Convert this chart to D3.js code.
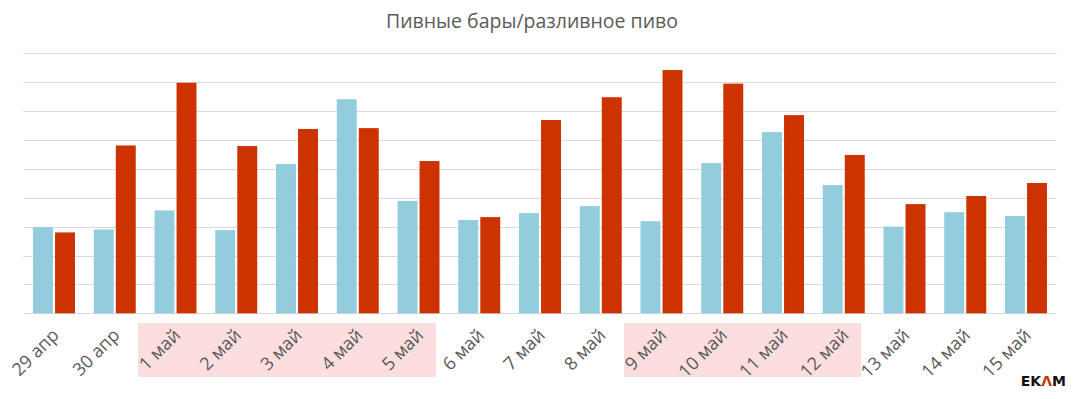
<!DOCTYPE html>
<html>
<head>
<meta charset="utf-8">
<script src="https://cdn.jsdelivr.net/npm/d3@7"></script>
<style>
  body { margin: 0; background: #fff; }
  svg { display: block; font-family: "Open Sans", sans-serif; }
</style>
</head>
<body>
<svg id="chart"></svg>
<script>
const width = 1077;
const height = 399;

const categories = ["29 апр", "30 апр", "1 май", "2 май", "3 май", "4 май", "5 май", "6 май",
  "7 май", "8 май", "9 май", "10 май", "11 май", "12 май", "13 май", "14 май", "15 май"];
const seriesNames = ["prev", "cur"];
const prevValues = [2.98, 2.9, 3.56, 2.88, 5.17, 7.41, 3.89, 3.23, 3.47, 3.71, 3.19, 5.2, 6.27, 4.44, 3.0, 3.5, 3.37];
const curValues = [2.8, 5.81, 7.98, 5.79, 6.38, 6.41, 5.27, 3.33, 6.69, 7.48, 8.42, 7.95, 6.86, 5.48, 3.78, 4.06, 4.51];
const gridTicks = [0, 1, 2, 3, 4, 5, 6, 7, 8, 9];
const holidays = [["1 май", "5 май"], ["9 май", "12 май"]];

const colors = { prev: "#93cddd", cur: "#cc3300" };

const plotLeft = 23.3, plotRight = 1056.7, plotTop = 53.3, plotBottom = 313.3;

const svg = d3.select("#chart").attr("width", width).attr("height", height);

let xScale = d3.scaleBand()
  .domain(categories)
  .range([plotLeft, plotRight])
  .paddingInner(0.309)
  .paddingOuter(0.16);

let xInner = d3.scaleBand()
  .domain(seriesNames)
  .range([0, xScale.bandwidth()])
  .paddingInner(0.095);

let yScale = d3.scaleLinear()
  .domain([0, 9])
  .range([plotBottom, plotTop]);

// title
svg.append("text")
  .attr("x", 532)
  .attr("y", 28)
  .attr("text-anchor", "middle")
  .style("font-size", "19.5px")
  .style("fill", "#5a5a5a")
  .text("Пивные бары/разливное пиво");

// holiday highlight under labels (shifted left like the rotated labels)
holidays.forEach(([a, b]) => {
  let x0 = xScale(a) - 16.5;
  let x1 = xScale(b) + xScale.bandwidth() - 3.5;
  svg.append("rect")
    .attr("x", x0)
    .attr("y", 323)
    .attr("width", x1 - x0)
    .attr("height", 54)
    .style("fill", "#fddede");
});

// gridlines
svg.append("g")
  .selectAll("line")
  .data(gridTicks)
  .enter()
  .append("line")
  .attr("x1", plotLeft)
  .attr("x2", plotRight)
  .attr("y1", (d) => Math.round(yScale(d)) + 0.5)
  .attr("y2", (d) => Math.round(yScale(d)) + 0.5)
  .style("stroke", "#dadada")
  .style("stroke-width", 1.2);

// bars
let rows = categories.map((c, i) => ({ cat: c, prev: prevValues[i], cur: curValues[i] }));

let groups = svg.append("g")
  .selectAll("g")
  .data(rows)
  .enter()
  .append("g")
  .attr("transform", (d) => "translate(" + xScale(d.cat) + ",0)");

groups.selectAll("rect")
  .data((d) => seriesNames.map((s) => ({ key: s, value: d[s] })))
  .enter()
  .append("rect")
  .attr("x", (d) => xInner(d.key))
  .attr("width", xInner.bandwidth())
  .attr("y", (d) => yScale(d.value))
  .attr("height", (d) => yScale(0) - yScale(d.value))
  .style("fill", (d) => colors[d.key]);

// x axis labels
let xAxis = d3.axisBottom(xScale).tickSize(0).tickPadding(0);
let axisG = svg.append("g")
  .attr("transform", "translate(0," + plotBottom + ")")
  .call(xAxis);
axisG.select(".domain").remove();
axisG.selectAll("text")
  .attr("dy", null)
  .attr("y", 0)
  .attr("x", 0)
  .attr("text-anchor", "end")
  .attr("transform", "translate(6,23) rotate(-45)")
  .style("font-size", "18px")
  .style("font-family", "\"Open Sans\", sans-serif")
  .style("fill", "#5a5a5a");

// logo
let logo = svg.append("text")
  .attr("x", 1066)
  .attr("y", 386)
  .attr("text-anchor", "end")
  .style("font-size", "14px")
  .style("font-weight", "bold")
  .style("font-family", "\"DejaVu Sans\", sans-serif")
  .style("fill", "#111");
logo.append("tspan").text("EK");
logo.append("tspan").style("fill", "#cc3300").text("Λ");
logo.append("tspan").text("M");
</script>
</body>
</html>
